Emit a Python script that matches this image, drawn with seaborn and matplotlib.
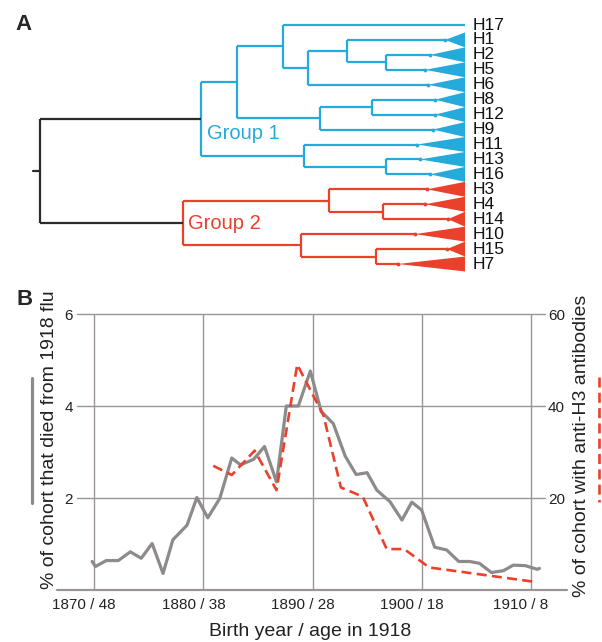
import numpy as np
import pandas as pd
import seaborn as sns
import matplotlib.pyplot as plt
from matplotlib.lines import Line2D
from matplotlib.patches import Polygon
from matplotlib.transforms import ScaledTranslation

# ---- panel A: HA subtype tree (depth in arbitrary branch-length units) ----
leaves = ['H17', 'H1', 'H2', 'H5', 'H6', 'H8', 'H12', 'H9', 'H11', 'H13', 'H16',
          'H3', 'H4', 'H14', 'H10', 'H15', 'H7']
# where each collapsed clade (triangle) starts, None = single sequence
apex_depth = [None, 405, 390, 385, 388, 395, 395, 393, 377, 380, 390,
              387, 385, 408, 375, 407, 358]
tip_depth = 425

merge_name = ['n1', 'n2', 'n3', 'n4', 'n5', 'n6', 'n7', 'n8', 'n9', 'g1',
              'n10', 'n11', 'n12', 'n13', 'g2', 'root']
merge_left = ['H2', 'H1', 'n2', 'H17', 'H8', 'n5', 'n4', 'H13', 'H11', 'n7',
              'H4', 'H3', 'H15', 'H10', 'n11', 'g1']
merge_right = ['H5', 'n1', 'H6', 'n3', 'H12', 'H9', 'n6', 'H16', 'n8', 'n9',
               'H14', 'n10', 'H7', 'n12', 'n13', 'g2']
merge_depth = [346, 307, 268, 243, 332, 280, 197, 346, 264, 161,
               343, 289, 336, 261, 143, 0]

# ---- panel B: 1918 mortality vs anti-H3 seroprevalence by birth year ----
mort_year = [1869.8, 1870.1, 1871.1, 1872.2, 1873.3, 1874.3, 1875.3, 1876.3,
             1877.2, 1878.5, 1879.4, 1880.4, 1881.5, 1882.6, 1883.4, 1884.6,
             1885.6, 1886.7, 1887.6, 1888.7, 1889.8, 1890.8, 1891.9, 1893.0,
             1894.0, 1895.0, 1895.9, 1897.1, 1898.2, 1899.1, 1900.0, 1901.2,
             1902.3, 1903.4, 1904.4, 1905.3, 1906.4, 1907.5, 1908.4, 1909.5,
             1910.6, 1910.8]
mort_pct = [0.62, 0.51, 0.64, 0.64, 0.83, 0.69, 1.01, 0.36,
            1.09, 1.41, 2.01, 1.57, 1.99, 2.87, 2.72, 2.84,
            3.12, 2.35, 4.00, 4.00, 4.76, 3.88, 3.62, 2.91,
            2.51, 2.55, 2.17, 1.92, 1.52, 1.91, 1.74, 0.93,
            0.87, 0.62, 0.62, 0.58, 0.38, 0.42, 0.54, 0.53,
            0.45, 0.47]

ab_year = [1880.9, 1882.6, 1884.7, 1886.7, 1888.6, 1891.0, 1892.6, 1894.6,
           1896.8, 1898.4, 1900.7, 1910.6]
ab_pct = [27.0, 25.0, 30.3, 21.7, 49.0, 38.0, 22.3, 20.3,
          8.9, 8.9, 4.9, 1.7]

xtick_years = [1870, 1880, 1890, 1900, 1910]
xtick_labels = ['1870 / 48', '1880 / 38', '1890 / 28', '1900 / 18', '1910 / 8']

CYAN = '#25ABDB'
RED = '#E9412B'
GREY = '#8E8A8A'
GRID = '#9C9494'

sns.set_style('white')
plt.rcParams['font.family'] = ['Liberation Sans', 'DejaVu Sans']

W, H = 602, 642
fig = plt.figure(figsize=(W / 100, H / 100), dpi=100)

#%% panel A
axa = fig.add_axes([40 / W, (H - 264) / H, 425 / W, 239 / H])
axa.set_xlim(0, tip_depth)
axa.set_ylim(len(leaves) - 1, 0)
axa.axis('off')

ypos, depth, children = {}, {}, {}
for i, nm in enumerate(leaves):
    ypos[nm] = i
    depth[nm] = apex_depth[i] if apex_depth[i] is not None else tip_depth
for nm, l, r, d in zip(merge_name, merge_left, merge_right, merge_depth):
    ypos[nm] = (ypos[l] + ypos[r]) / 2
    depth[nm] = d
    children[nm] = (l, r)

col = {}
def paint(nm, c):
    col[nm] = c
    for ch in children.get(nm, ()):
        paint(ch, c)
paint('g1', CYAN)
paint('g2', RED)
col['root'] = '#2b2b2b'

lw_tree = 1.6
for nm, (l, r) in children.items():
    d = depth[nm]
    axa.plot([d, d], [ypos[l], ypos[r]], color=col[nm], lw=lw_tree,
             solid_capstyle='butt', clip_on=False)
    for ch in (l, r):
        axa.plot([d, depth[ch]], [ypos[ch], ypos[ch]], color=col[nm],
                 lw=lw_tree, solid_capstyle='butt', clip_on=False)
# little stub at the root
axa.plot([-7, 0], [ypos['root']] * 2, color=col['root'], lw=lw_tree, clip_on=False)

for i, nm in enumerate(leaves):
    y = ypos[nm]
    if apex_depth[i] is not None:
        c = col[nm]
        tri = Polygon([(apex_depth[i], y), (tip_depth, y - 0.5), (tip_depth, y + 0.5)],
                      closed=True, facecolor=c, edgecolor='none', clip_on=False)
        axa.add_patch(tri)
        axa.plot(apex_depth[i], y, 'o', color=c, ms=2.8, mec='none', clip_on=False)
    axa.text(433, y, nm, ha='left', va='center', fontsize=12.5, color='#111111')

axa.text(167, 7.63, 'Group 1', color=CYAN, fontsize=14.5, ha='left', va='baseline')
axa.text(148, 13.65, 'Group 2', color=RED, fontsize=14.5, ha='left', va='baseline')

#%% panel B
ax = fig.add_axes([77 / W, (H - 590) / H, 468 / W, 276 / H])
ax.set_xlim(1868.414, 1911.31)
ax.set_ylim(0, 6)

ax.set_xticks(xtick_years)
ax.set_xticklabels(xtick_labels)
ax.set_yticks([2, 4, 6])
ax.set_yticklabels(['2', '4', '6'])
ax.grid(True, color=GRID, lw=1.0)
ax.set_axisbelow(True)
for s in ax.spines.values():
    s.set_visible(False)
ax.tick_params(length=0, labelsize=11, labelcolor='#222222')
ax.tick_params(axis='x', pad=6)
ax.tick_params(axis='y', pad=3)
for lab in ax.get_xticklabels():
    lab.set_transform(lab.get_transform() + ScaledTranslation(-0.1, 0, fig.dpi_scale_trans))
for gl in ax.get_ygridlines():
    gl.set_clip_on(False)

# bottom axis line, longer than the grid
ax.add_line(Line2D([-20 / 468, 490 / 468], [0, 0], transform=ax.transAxes,
                   color=GRID, lw=1.6, clip_on=False))

df_mort = pd.DataFrame({'year': mort_year, 'pct': mort_pct})
sns.lineplot(data=df_mort, x='year', y='pct', ax=ax, color=GREY, linewidth=2.3,
             estimator=None, sort=False)

ax.set_ylabel('% of cohort that died from 1918 flu', fontsize=14,
              color='#222222', ha='center', va='center')
ax.yaxis.set_label_coords((50 - 77) / 468, (590 - 440) / 276)
ax.set_xlabel('Birth year / age in 1918', fontsize=14, color='#222222', va='top')
ax.xaxis.set_label_coords((310 - 77) / 468, (590 - 623) / 276)

ax2 = ax.twinx()
ax2.set_ylim(0, 60)
ax2.set_yticks([20, 40, 60])
ax2.set_yticklabels(['20', '40', '60'])
ax2.grid(False)
for s in ax2.spines.values():
    s.set_visible(False)
ax2.tick_params(length=0, labelsize=11, labelcolor='#222222', pad=2.2)

df_ab = pd.DataFrame({'year': ab_year, 'pct': ab_pct})
sns.lineplot(data=df_ab, x='year', y='pct', ax=ax2, color=RED, linewidth=1.9,
             linestyle=(0, (3.8, 2)), estimator=None, sort=False)
ax2.set_ylabel('% of cohort with anti-H3 antibodies', fontsize=14,
               color='#222222', rotation=90, ha='center', va='center')
ax2.yaxis.set_label_coords((582 - 77) / 468, (590 - 446) / 276)
ax2.set_xlabel('')

# line keys beside the axis titles
fig.add_artist(Line2D([32 / W] * 2, [1 - 378 / H, 1 - 503 / H], color=GREY, lw=2.3))
fig.add_artist(Line2D([599 / W] * 2, [1 - 377 / H, 1 - 502 / H], color=RED, lw=1.9,
                      linestyle=(0, (3.8, 2))))

fig.text(15 / W, 1 - 14 / H, 'A', fontsize=16, weight='bold', ha='left', va='top')
fig.text(17 / W, 1 - 289 / H, 'B', fontsize=16, weight='bold', ha='left', va='top')

fig.savefig('out.png', dpi=100)
